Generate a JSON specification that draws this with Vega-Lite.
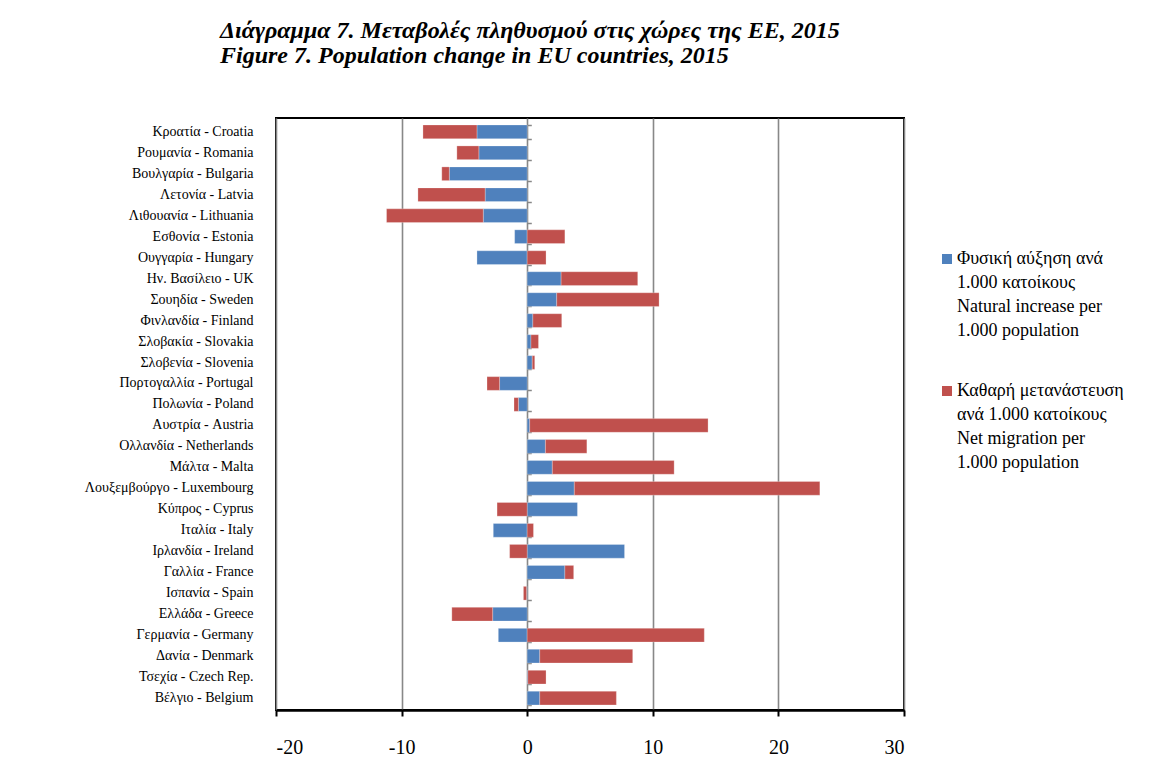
{
  "$schema": "https://vega.github.io/schema/vega-lite/v6.json",
  "autosize": {"type": "none"},
  "width": 628,
  "height": 592,
  "padding": {"left": 276, "top": 118, "right": 261, "bottom": 74},
  "background": "white",
  "title": {
    "text": ["Διάγραμμα 7. Μεταβολές πληθυσμού στις χώρες της ΕΕ, 2015", "Figure 7. Population change in EU countries, 2015"],
    "anchor": "start",
    "frame": "group",
    "dx": -56,
    "offset": 50,
    "font": "Liberation Serif",
    "fontSize": 24,
    "fontStyle": "italic",
    "fontWeight": "bold",
    "lineHeight": 25,
    "color": "#000"
  },
  "config": {
    "view": {"stroke": "#000", "strokeWidth": 2},
    "font": "Liberation Serif",
    "style": {"guide-label": {"lineHeight": 24}}
  },
  "data": {
    "values": [
      {"country": "Κροατία - Croatia", "series": "nat", "value": -4.0},
      {"country": "Κροατία - Croatia", "series": "mig", "value": -4.3},
      {"country": "Ρουμανία - Romania", "series": "nat", "value": -3.85},
      {"country": "Ρουμανία - Romania", "series": "mig", "value": -1.75},
      {"country": "Βουλγαρία - Bulgaria", "series": "nat", "value": -6.2},
      {"country": "Βουλγαρία - Bulgaria", "series": "mig", "value": -0.6},
      {"country": "Λετονία - Latvia", "series": "nat", "value": -3.35},
      {"country": "Λετονία - Latvia", "series": "mig", "value": -5.35},
      {"country": "Λιθουανία - Lithuania", "series": "nat", "value": -3.5},
      {"country": "Λιθουανία - Lithuania", "series": "mig", "value": -7.7},
      {"country": "Εσθονία - Estonia", "series": "nat", "value": -1.0},
      {"country": "Εσθονία - Estonia", "series": "mig", "value": 3.0},
      {"country": "Ουγγαρία - Hungary", "series": "nat", "value": -4.0},
      {"country": "Ουγγαρία - Hungary", "series": "mig", "value": 1.5},
      {"country": "Ην. Βασίλειο - UK", "series": "nat", "value": 2.7},
      {"country": "Ην. Βασίλειο - UK", "series": "mig", "value": 6.1},
      {"country": "Σουηδία - Sweden", "series": "nat", "value": 2.35},
      {"country": "Σουηδία - Sweden", "series": "mig", "value": 8.15},
      {"country": "Φινλανδία - Finland", "series": "nat", "value": 0.45},
      {"country": "Φινλανδία - Finland", "series": "mig", "value": 2.3},
      {"country": "Σλοβακία - Slovakia", "series": "nat", "value": 0.3},
      {"country": "Σλοβακία - Slovakia", "series": "mig", "value": 0.6},
      {"country": "Σλοβενία - Slovenia", "series": "nat", "value": 0.4},
      {"country": "Σλοβενία - Slovenia", "series": "mig", "value": 0.2},
      {"country": "Πορτογαλλία - Portugal", "series": "nat", "value": -2.2},
      {"country": "Πορτογαλλία - Portugal", "series": "mig", "value": -1.0},
      {"country": "Πολωνία - Poland", "series": "nat", "value": -0.7},
      {"country": "Πολωνία - Poland", "series": "mig", "value": -0.35},
      {"country": "Αυστρία - Austria", "series": "nat", "value": 0.2},
      {"country": "Αυστρία - Austria", "series": "mig", "value": 14.2},
      {"country": "Ολλανδία - Netherlands", "series": "nat", "value": 1.45},
      {"country": "Ολλανδία - Netherlands", "series": "mig", "value": 3.3},
      {"country": "Μάλτα - Malta", "series": "nat", "value": 2.0},
      {"country": "Μάλτα - Malta", "series": "mig", "value": 9.7},
      {"country": "Λουξεμβούργο - Luxembourg", "series": "nat", "value": 3.75},
      {"country": "Λουξεμβούργο - Luxembourg", "series": "mig", "value": 19.55},
      {"country": "Κύπρος - Cyprus", "series": "nat", "value": 4.0},
      {"country": "Κύπρος - Cyprus", "series": "mig", "value": -2.4},
      {"country": "Ιταλία - Italy", "series": "nat", "value": -2.7},
      {"country": "Ιταλία - Italy", "series": "mig", "value": 0.5},
      {"country": "Ιρλανδία - Ireland", "series": "nat", "value": 7.75},
      {"country": "Ιρλανδία - Ireland", "series": "mig", "value": -1.4},
      {"country": "Γαλλία - France", "series": "nat", "value": 3.0},
      {"country": "Γαλλία - France", "series": "mig", "value": 0.7},
      {"country": "Ισπανία - Spain", "series": "nat", "value": -0.05},
      {"country": "Ισπανία - Spain", "series": "mig", "value": -0.25},
      {"country": "Ελλάδα - Greece", "series": "nat", "value": -2.75},
      {"country": "Ελλάδα - Greece", "series": "mig", "value": -3.25},
      {"country": "Γερμανία - Germany", "series": "nat", "value": -2.3},
      {"country": "Γερμανία - Germany", "series": "mig", "value": 14.1},
      {"country": "Δανία - Denmark", "series": "nat", "value": 1.0},
      {"country": "Δανία - Denmark", "series": "mig", "value": 7.4},
      {"country": "Τσεχία - Czech Rep.", "series": "nat", "value": 0.05},
      {"country": "Τσεχία - Czech Rep.", "series": "mig", "value": 1.45},
      {"country": "Βέλγιο - Belgium", "series": "nat", "value": 1.0},
      {"country": "Βέλγιο - Belgium", "series": "mig", "value": 6.1}
    ]
  },
  "layer": [
    {
      "mark": {"type": "bar", "stroke": "#ffffff", "strokeOpacity": 0.5, "strokeWidth": 0.5},
      "encoding": {
        "y": {
          "field": "country",
          "type": "nominal",
          "sort": null,
          "scale": {"paddingInner": 0.347, "paddingOuter": 0.286, "align": 0.58},
          "axis": {
            "title": null,
            "domain": false,
            "ticks": false,
            "labelPadding": 23,
            "labelFontSize": 14,
            "labelFont": "Liberation Serif",
            "labelColor": "#000",
            "labelLimit": 300
          }
        },
        "x": {
          "field": "value",
          "type": "quantitative",
          "stack": "zero",
          "scale": {"domain": [-20, 30], "nice": false, "zero": false},
          "axis": {
            "title": null,
            "values": [-20, -10, 0, 10, 20, 30],
            "labelExpr": "'' + datum.value",
            "grid": true,
            "gridColor": "#888888",
            "gridWidth": 1.6,
            "gridOpacity": 1,
            "domain": true,
            "domainColor": "#000",
            "domainWidth": 2.5,
            "ticks": true,
            "tickColor": "#000",
            "tickWidth": 2,
            "tickSize": 6,
            "labelPadding": 21,
            "labelFontSize": 20,
            "labelFont": "Liberation Serif",
            "labelColor": "#000"
          }
        },
        "color": {
          "field": "series",
          "type": "nominal",
          "scale": {"domain": ["nat", "mig"], "range": ["#4F81BD", "#C0504D"]},
          "legend": {
            "title": null,
            "orient": "none",
            "legendX": 662,
            "legendY": 132,
            "symbolType": "square",
            "symbolSize": 100,
            "symbolStrokeWidth": 0,
            "labelFontSize": 18,
            "labelFont": "Liberation Serif",
            "labelColor": "#000",
            "labelLimit": 400,
            "labelOffset": 1,
            "labelBaseline": "middle",
            "rowPadding": 42,
            "labelExpr": "datum.value === 'nat' ? ['Φυσική αύξηση ανά', '\u2004 1.000 κατοίκους', 'Natural increase per', '1.000 population'] : ['Καθαρή μετανάστευση', 'ανά 1.000 κατοίκους', '\u2004 Net migration per', '1.000 population']"
          }
        },
        "order": {"field": "series", "sort": "descending"}
      }
    },
    {
      "mark": {"type": "point", "opacity": 0},
      "encoding": {
        "y": {
          "field": "country",
          "type": "nominal",
          "sort": null,
          "axis": {
            "title": null,
            "orient": "right",
            "offset": -376.7,
            "domain": false,
            "labels": false,
            "ticks": true,
            "tickBand": "extent",
            "tickColor": "#888888",
            "tickWidth": 1.5,
            "tickSize": 4
          }
        },
        "x": {"field": "value", "type": "quantitative"}
      }
    }
  ],
  "resolve": {"axis": {"y": "independent"}}
}
